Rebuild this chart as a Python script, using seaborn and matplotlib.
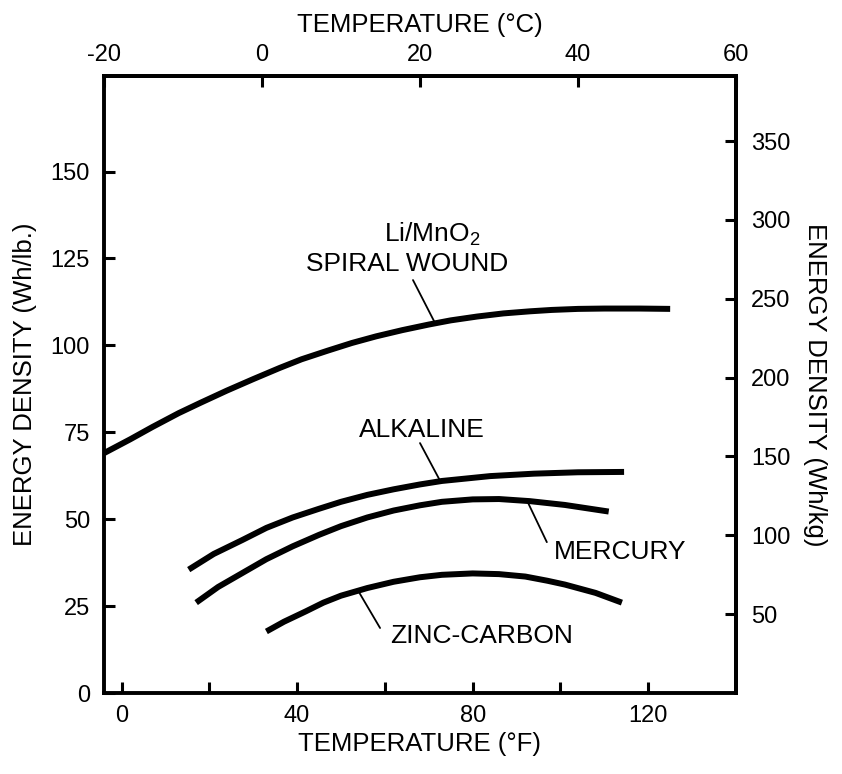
import matplotlib
matplotlib.use("Agg")
import matplotlib.pyplot as plt
import seaborn as sns
import pandas as pd

# ---- data (temperature in °F, energy density in Wh/lb) ----
li_temp = [-4, 2, 7, 13, 18, 24, 30, 36, 41, 47, 52.5, 58, 64, 70, 75, 81, 87, 93, 98, 104, 110, 118, 125]
li_dens = [69, 73, 76.5, 80.5, 83.5, 87, 90.3, 93.5, 96, 98.5, 100.7, 102.6, 104.4, 106, 107.2,
           108.3, 109.2, 109.8, 110.2, 110.5, 110.6, 110.6, 110.5]

alk_temp = [15.3, 21, 27.5, 33, 39, 45, 50, 56, 62, 68, 73, 84, 94, 104, 114.5]
alk_dens = [35.5, 40, 44, 47.5, 50.5, 53, 55, 57, 58.6, 60, 61, 62.4, 63.1, 63.5, 63.6]

hg_temp = [17, 22, 27.5, 33, 39, 45, 50, 56, 62, 68, 73, 80, 86, 93, 101, 111]
hg_dens = [26, 30.5, 34.5, 38.5, 42.2, 45.5, 48, 50.5, 52.5, 54, 55, 55.7, 55.8, 55.2, 54.1, 52.2]

zn_temp = [33, 37, 42, 46, 50, 56, 62, 68, 73, 80, 86, 92, 97, 101, 108, 114]
zn_dens = [17.7, 20.5, 23.5, 26, 28, 30.2, 32, 33.3, 34, 34.4, 34.2, 33.5, 32.3, 31.2, 28.8, 26]

series_names = ["Li/MnO2", "ALKALINE", "MERCURY", "ZINC-CARBON"]

bottom_ticks = [0, 20, 40, 60, 80, 100, 120]
bottom_labels = ["0", "", "40", "", "80", "", "120"]
left_ticks = [0, 25, 50, 75, 100, 125, 150]
top_ticks = [-20, 0, 20, 40, 60]
right_ticks = [50, 100, 150, 200, 250, 300, 350]

WH_KG_PER_WH_LB = 2.20462

frames = []
for name, t, d in zip(series_names,
                      [li_temp, alk_temp, hg_temp, zn_temp],
                      [li_dens, alk_dens, hg_dens, zn_dens]):
    frames.append(pd.DataFrame({"temp_F": t, "density": d, "battery": name}))
df = pd.concat(frames, ignore_index=True)

sns.set_style("ticks")
plt.rcParams["font.family"] = ["Liberation Sans", "DejaVu Sans"]
plt.rcParams["mathtext.fontset"] = "custom"
plt.rcParams["mathtext.rm"] = "Liberation Sans"
plt.rcParams["mathtext.it"] = "Liberation Sans"
plt.rcParams["mathtext.default"] = "rm"
plt.rcParams["axes.unicode_minus"] = False
for k in ["text.color", "axes.labelcolor", "xtick.color", "ytick.color",
          "xtick.labelcolor", "ytick.labelcolor", "axes.edgecolor"]:
    plt.rcParams[k] = "black"

fig = plt.figure(figsize=(8.42, 7.74), dpi=100)
ax = fig.add_axes([104 / 842, 81 / 774, 632 / 842, 617 / 774])

sns.lineplot(data=df, x="temp_F", y="density", hue="battery",
             palette=["black"] * 4, legend=False, linewidth=4.3,
             estimator=None, sort=True, ax=ax, solid_capstyle="butt",
             solid_joinstyle="round")

ax.set_xlim(-4, 140)
ax.set_ylim(0, 177.5)

for sp in ax.spines.values():
    sp.set_linewidth(2.8)
    sp.set_color("black")
    sp.set_visible(True)

tick_fs = 17
lab_fs = 18.5

ax.set_xticks(bottom_ticks)
ax.set_xticklabels(bottom_labels)
ax.set_yticks(left_ticks)
ax.tick_params(axis="both", direction="in", length=8, width=2.2,
               labelsize=tick_fs, colors="black")
ax.tick_params(axis="x", pad=9)
ax.tick_params(axis="y", pad=10)
ax.set_xlabel("TEMPERATURE (°F)", fontsize=lab_fs, labelpad=3)
ax.set_ylabel("ENERGY DENSITY (Wh/lb.)", fontsize=lab_fs, labelpad=10)

top = ax.secondary_xaxis("top", functions=(lambda f: (f - 32) / 1.8,
                                           lambda c: c * 1.8 + 32))
top.set_xticks(top_ticks)
top.tick_params(direction="in", length=8, width=2.2, labelsize=tick_fs, pad=7,
                colors="black")
top.spines["top"].set_linewidth(2.8)
top.set_xlabel("TEMPERATURE (°C)", fontsize=lab_fs, labelpad=9)

right = ax.secondary_yaxis("right", functions=(lambda w: w * WH_KG_PER_WH_LB,
                                               lambda k: k / WH_KG_PER_WH_LB))
right.set_yticks(right_ticks)
right.tick_params(direction="in", length=8, width=2.2, labelsize=tick_fs, pad=11,
                  colors="black")
right.spines["right"].set_linewidth(2.8)
right.set_ylabel("ENERGY DENSITY (Wh/kg)", fontsize=lab_fs, rotation=270,
                 labelpad=26)

ann_fs = 19
lead = dict(arrowstyle="-", color="black", lw=1.3, shrinkA=0, shrinkB=0)

ax.text(70.7, 131.8, "Li/MnO$_2$", fontsize=ann_fs, ha="center", va="center")
ax.text(65, 123.4, "SPIRAL WOUND", fontsize=ann_fs, ha="center", va="center")
ax.annotate("", xy=(71.4, 106.5), xytext=(66.4, 118.8), arrowprops=lead)

ax.text(68.5, 75.7, "ALKALINE", fontsize=ann_fs, ha="center", va="center")
ax.annotate("", xy=(72.6, 61.0), xytext=(68, 71.9), arrowprops=lead)

ax.text(113.6, 40.6, "MERCURY", fontsize=ann_fs, ha="center", va="center")
ax.annotate("", xy=(92.4, 55.3), xytext=(96.9, 43.4), arrowprops=lead)

ax.text(82.1, 16.4, "ZINC-CARBON", fontsize=ann_fs, ha="center", va="center")
ax.annotate("", xy=(54.1, 29.0), xytext=(58.9, 18.7), arrowprops=lead)

fig.savefig("out.png", dpi=100, facecolor="white")
